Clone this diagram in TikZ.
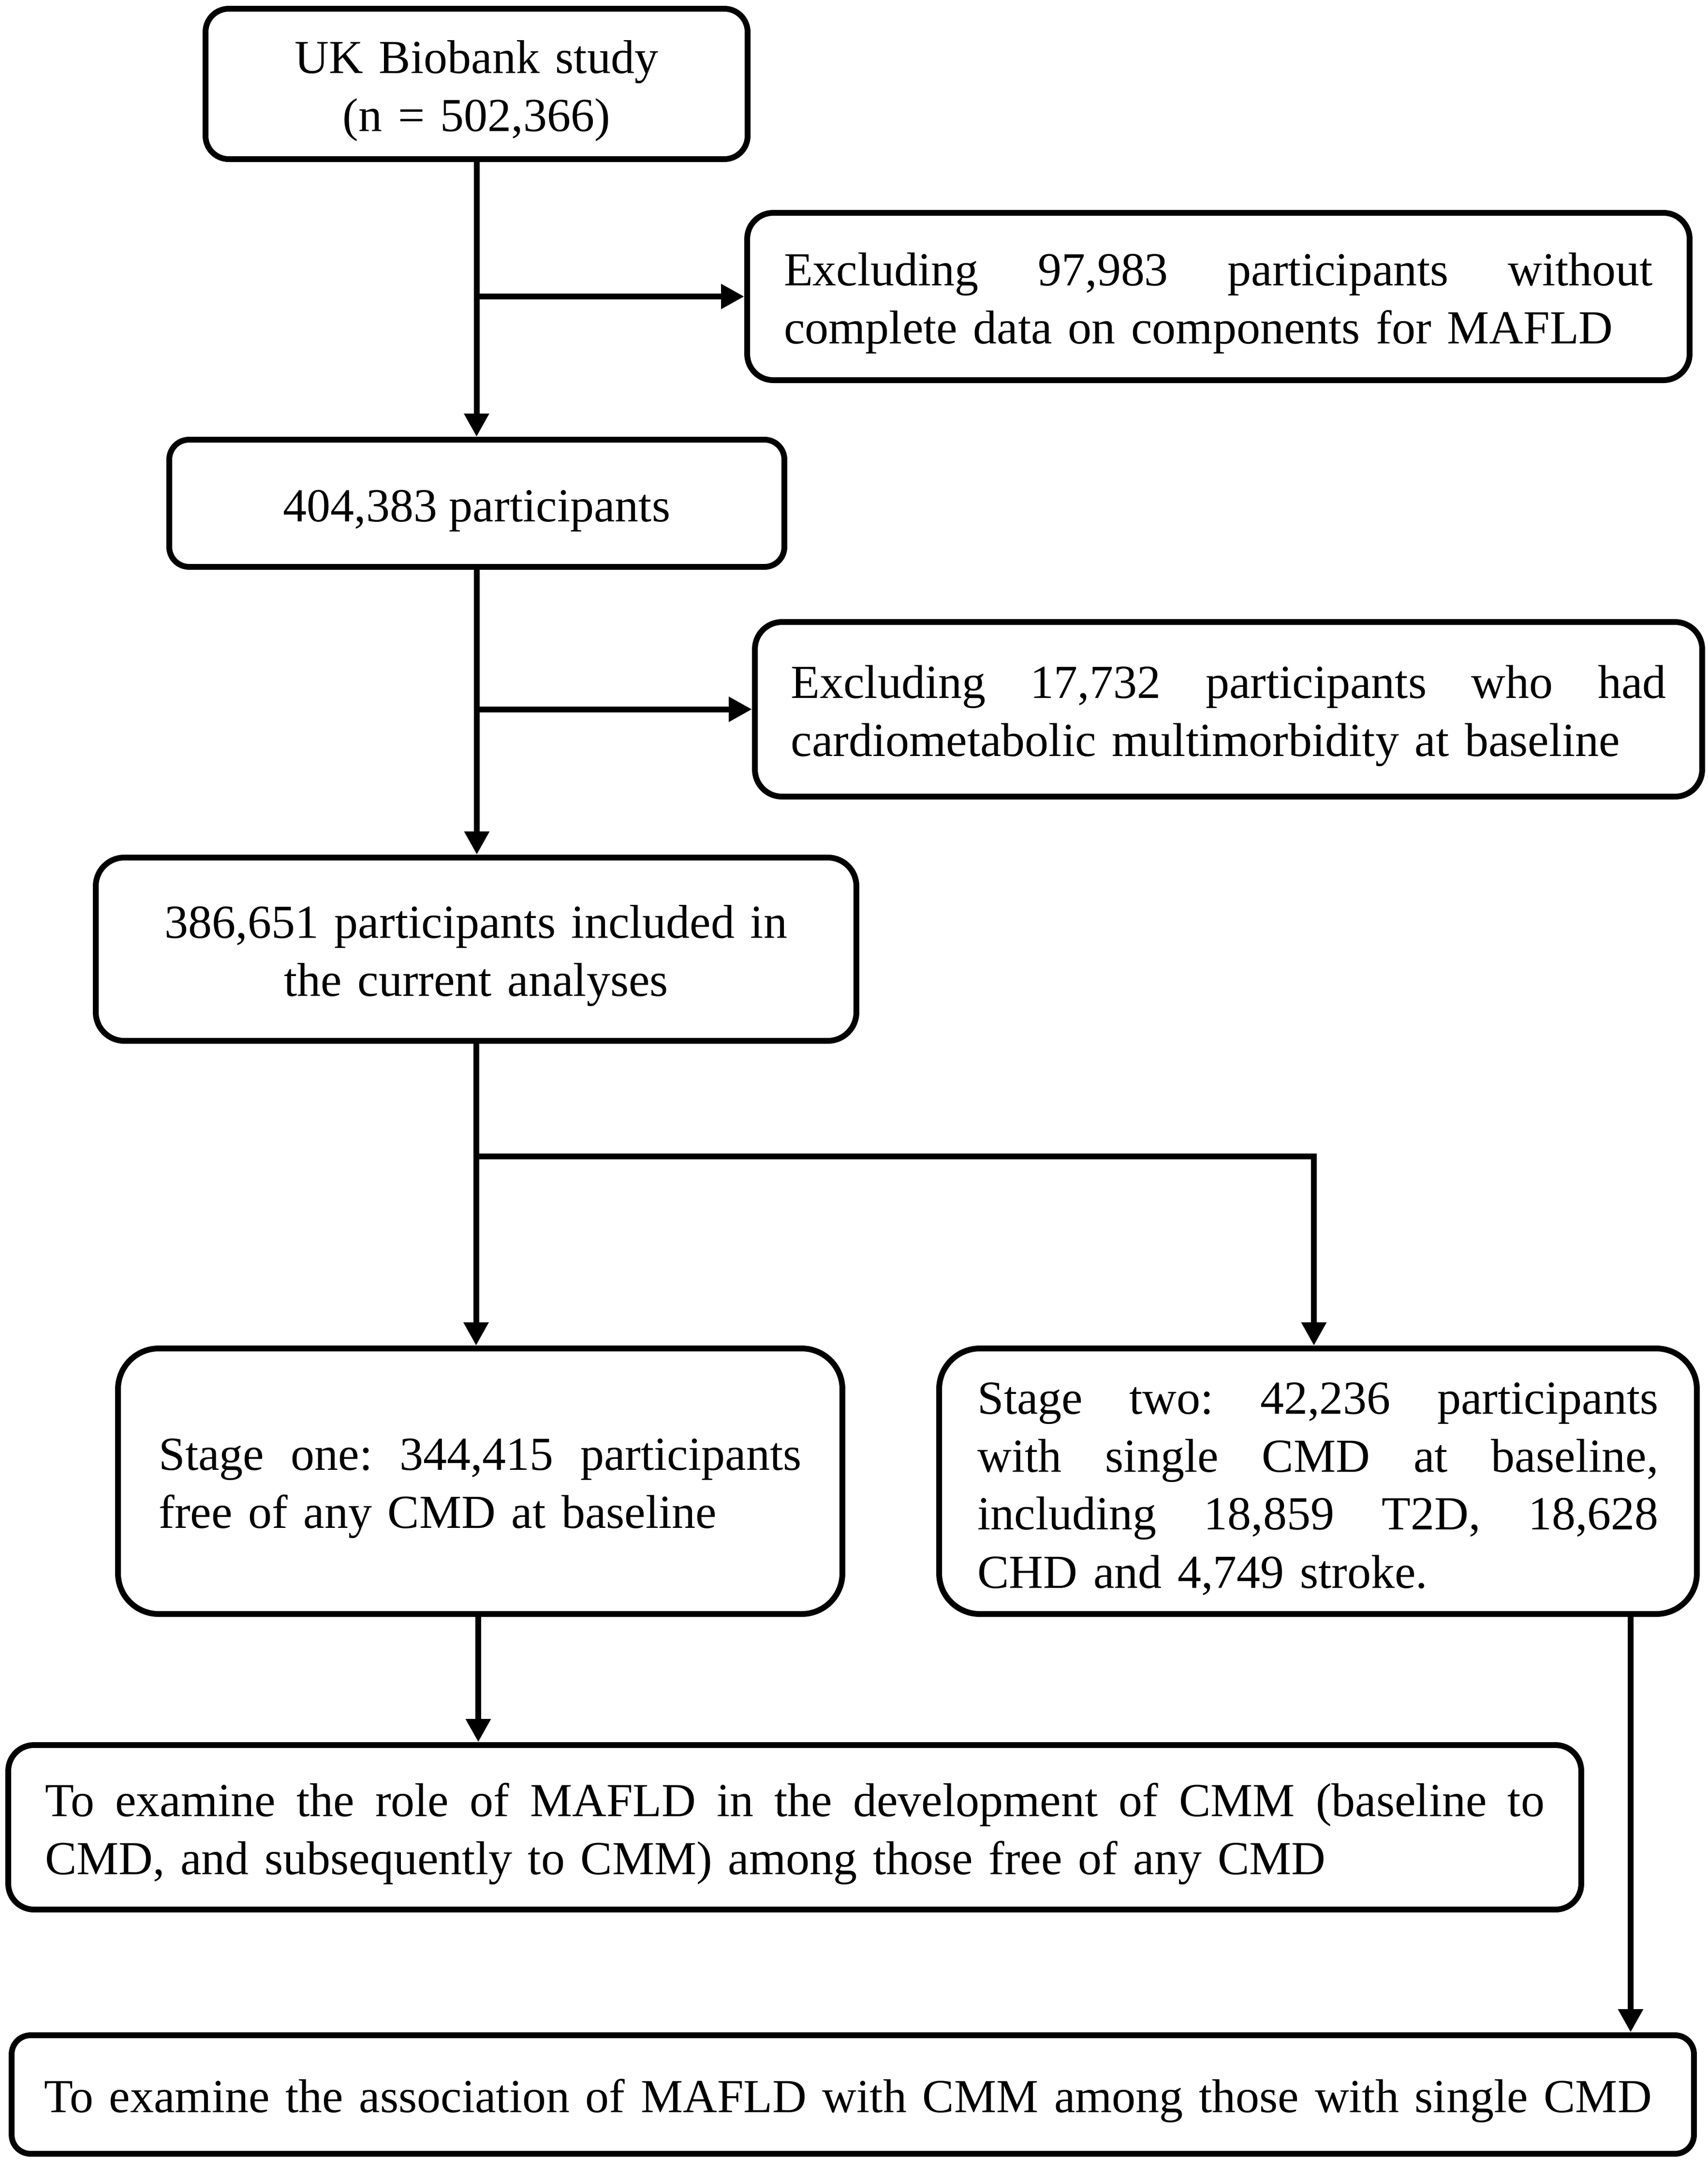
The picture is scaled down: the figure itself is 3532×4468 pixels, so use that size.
\documentclass[tikz,border=0pt]{standalone}
\usepackage{fontspec}
\setmainfont{Liberation Serif}
\usetikzlibrary{arrows.meta,calc}
\newcommand\jline[2]{\makebox[#1][s]{\spaceskip=0.25em plus 1fil\relax #2}}
\begin{document}
\begin{tikzpicture}[x=0.1pt,y=-0.1pt,
  box/.style={draw,line width=1.2pt,inner sep=0pt,
    font=\fontsize{9.8pt}{12pt}\selectfont\frenchspacing,
    execute at begin node={\rule{0pt}{9.6pt}}},
  arr/.style={line width=1.2pt,-{Triangle[length=4.8pt,width=4.9pt]}},
  ln/.style={line width=1.2pt}]
\useasboundingbox (0,0) rectangle (3532,4468);

\node[box,rounded corners=4.8pt,minimum width=112.1pt,minimum height=31.1pt,text width=100pt,align=center] (A) at (985.5,173.5)
  {UK Biobank study\\(n = 502,366)};
\node[box,rounded corners=5.4pt,minimum width=194.9pt,minimum height=34.6pt,text width=179.7pt,align=left] (B) at (2519.5,613)
  {\jline{179.7pt}{Excluding 97,983 participants without}\\complete data on components for MAFLD};
\node[box,rounded corners=4.1pt,minimum width=127.2pt,minimum height=26.3pt,align=center] (C) at (986,1040.5)
  {404,383 participants};
\node[box,rounded corners=5.6pt,minimum width=195.9pt,minimum height=36.1pt,text width=181pt,align=left] (D) at (2540.5,1466.5)
  {\jline{181pt}{Excluding 17,732 participants who had}\\cardiometabolic multimorbidity at baseline};
\node[box,rounded corners=5.9pt,minimum width=157.3pt,minimum height=37.9pt,text width=150pt,align=center] (E) at (984.5,1962.5)
  {386,651 participants included in\\the current analyses};
\node[box,rounded corners=8.4pt,minimum width=149.8pt,minimum height=54.9pt,text width=132.9pt,align=left] (F) at (993,3062.5)
  {\jline{132.9pt}{Stage one: 344,415 participants}\\free of any CMD at baseline};
\node[box,rounded corners=8.4pt,minimum width=156.7pt,minimum height=54.9pt,text width=140.8pt,align=left] (G) at (2725.5,3062.5)
  {\jline{140.8pt}{Stage two: 42,236 participants}\\
   \jline{140.8pt}{with single CMD at baseline,}\\
   \jline{140.8pt}{including 18,859 T2D, 18,628}\\
   CHD and 4,749 stroke.};
\node[box,rounded corners=5.3pt,minimum width=325.3pt,minimum height=34pt,text width=310.1pt,align=left] (H) at (1643.5,3778)
  {\jline{310.1pt}{To examine the role of MAFLD in the development of CMM (baseline to}\\
   CMD, and subsequently to CMM) among those free of any CMD};
\node[box,rounded corners=3.9pt,minimum width=347.9pt,minimum height=24.5pt,text width=334.5pt,align=left] (I) at (1763.5,4330.5)
  {To examine the association of MAFLD with CMM among those with single CMD};

\coordinate (splitR) at (2717,2391);

\draw[arr] (A.south) -- (A.south |- C.north);
\draw[arr] (A.south |- B.west) -- (B.west);
\draw[arr] (C.south) -- (C.south |- E.north);
\draw[arr] (C.south |- D.west) -- (D.west);
\draw[arr] (E.south) -- (E.south |- F.north);
\draw[arr] (E.south |- splitR) -- (splitR) -- (splitR |- G.north);
\draw[arr] ([xshift=-0.4pt]F.south) -- ([xshift=-0.4pt]F.south |- H.north);
\draw[arr] ([xshift=-14.3pt]G.south east) -- ([xshift=-14.3pt]G.south east |- I.north);
\end{tikzpicture}
\end{document}
